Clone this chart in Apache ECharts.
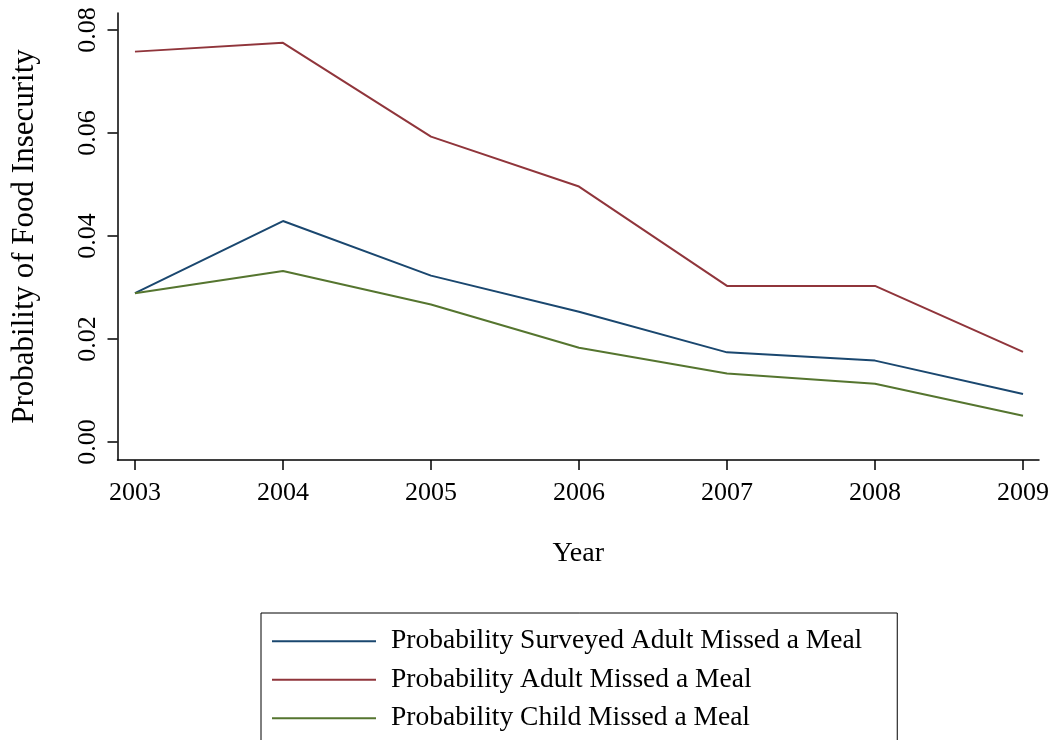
<!DOCTYPE html>
<html>
<head>
<meta charset="utf-8">
<style>
  html, body { margin: 0; padding: 0; background: #ffffff; }
  #chart { width: 1057px; height: 740px; }
</style>
<script src="https://cdn.jsdelivr.net/npm/echarts@6/dist/echarts.min.js"></script>
</head>
<body>
<div id="chart"></div>
<script>
// Survey years and estimated probabilities for each measure
const years = [2003, 2004, 2005, 2006, 2007, 2008, 2009];
const surveyedAdult = [0.0289, 0.0429, 0.0323, 0.0253, 0.0174, 0.0158, 0.0093];
const anyAdult = [0.0758, 0.0775, 0.0593, 0.0496, 0.0303, 0.0303, 0.0175];
const child = [0.0289, 0.0332, 0.0267, 0.0183, 0.0133, 0.0113, 0.0051];
const yTicks = [0, 0.02, 0.04, 0.06, 0.08];

const seriesNames = [
  'Probability Surveyed Adult Missed a Meal',
  'Probability Adult Missed a Meal',
  'Probability Child Missed a Meal'
];
const seriesColors = ['#1a476f', '#90353b', '#55752f'];
const seriesValues = [surveyedAdult, anyAdult, child];

const font = '"Liberation Serif", "Times New Roman", serif';

const chart = echarts.init(document.getElementById('chart'), null, { renderer: 'canvas' });

chart.setOption({
  animation: false,
  backgroundColor: '#ffffff',
  textStyle: { fontFamily: font, color: '#000' },
  grid: { left: 117.5, right: 18, top: 13, bottom: 280, containLabel: false },
  xAxis: {
    type: 'value',
    min: 2002.882,
    max: 2009.108,
    name: 'Year',
    nameLocation: 'middle',
    nameGap: 80,
    nameTextStyle: { fontFamily: font, fontSize: 28, color: '#000' },
    axisLine: { show: true, onZero: false, lineStyle: { color: '#000', width: 1.5 } },
    axisTick: { show: true, length: 10, lineStyle: { color: '#000', width: 1.5 }, customValues: years },
    axisLabel: { fontFamily: font, fontSize: 26, color: '#000', margin: 20, customValues: years, formatter: v => String(v) },
    splitLine: { show: false }
  },
  yAxis: {
    type: 'value',
    min: -0.0035,
    max: 0.0833,
    name: 'Probability of Food Insecurity',
    nameLocation: 'middle',
    nameGap: 77,
    nameTextStyle: { fontFamily: font, fontSize: 31, color: '#000' },
    axisLine: { show: true, onZero: false, lineStyle: { color: '#000', width: 1.5 } },
    axisTick: { show: true, length: 10, lineStyle: { color: '#000', width: 1.5 }, customValues: yTicks },
    axisLabel: { fontFamily: font, fontSize: 26, color: '#000', rotate: 90, margin: 16, customValues: yTicks, formatter: v => v.toFixed(2) },
    splitLine: { show: false }
  },
  legend: {
    orient: 'vertical',
    left: 261,
    top: 613,
    height: 130,
    padding: [9, 35, 40, 11],
    borderColor: '#000',
    borderWidth: 1,
    icon: 'rect',
    itemWidth: 104,
    itemHeight: 2,
    itemGap: 0,
    textStyle: { fontFamily: font, fontSize: 27.5, color: '#000', lineHeight: 38.5, padding: [0, 0, 0, 10] },
    data: seriesNames
  },
  series: seriesNames.map((name, i) => ({
    name: name,
    type: 'line',
    data: years.map((y, j) => [y, seriesValues[i][j]]),
    showSymbol: false,
    symbol: 'none',
    lineStyle: { color: seriesColors[i], width: 2 },
    itemStyle: { color: seriesColors[i] }
  }))
});
</script>
</body>
</html>
